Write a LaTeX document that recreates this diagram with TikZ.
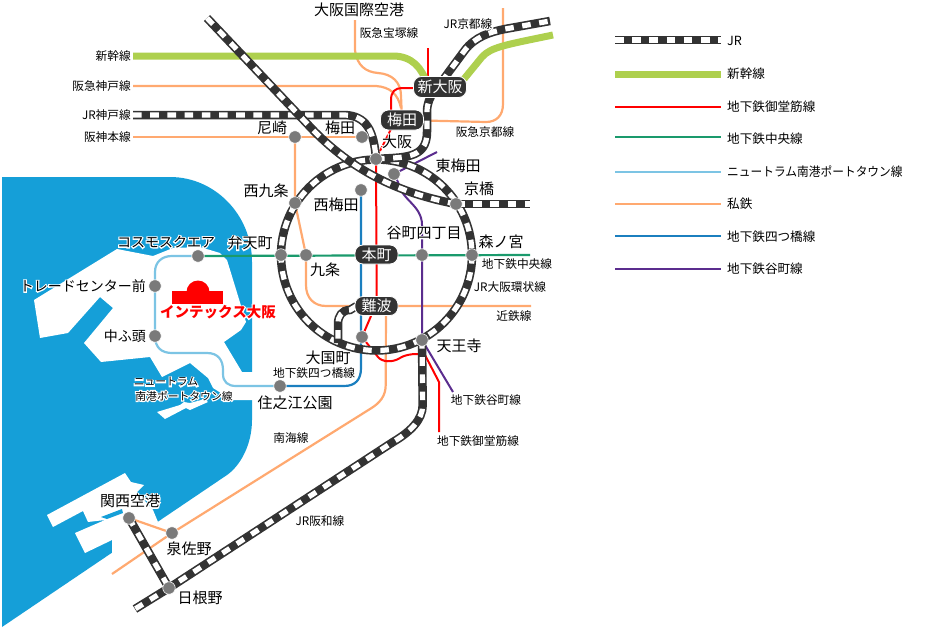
\documentclass[tikz,border=0pt]{standalone}
\usepackage{graphicx}
\usepackage{fontspec}
\setmainfont{Noto Sans CJK JP}
\usetikzlibrary{backgrounds}
\definecolor{water}{HTML}{159FD8}
\definecolor{jrdark}{HTML}{333333}
\definecolor{shink}{HTML}{AED04E}
\definecolor{midou}{HTML}{FF0000}
\definecolor{chuo}{HTML}{1A9A6C}
\definecolor{ntram}{HTML}{7CC4E4}
\definecolor{priv}{HTML}{FFA970}
\definecolor{yotsu}{HTML}{1B7FBF}
\definecolor{tani}{HTML}{5B2D8E}
\definecolor{stn}{HTML}{7A7A7A}
\pgfdeclarelayer{waterlayer}\pgfdeclarelayer{lines}
\pgfsetlayers{waterlayer,lines,main}
\newcommand\hl[1]{\leavevmode\rlap{\special{pdf:code q 1 1 1 RG 2.2 w 1 Tr}#1\special{pdf:code Q}}#1}
\tikzset{
 jrline/.style={draw=jrdark,line width=8.5pt,postaction={draw=white,line width=5.2pt,dash pattern=on 8.6pt off 8.6pt}},
 shinline/.style={draw=shink,line width=7pt},
 midoline/.style={draw=midou,line width=2pt},
 chuoline/.style={draw=chuo,line width=2.2pt},
 tramline/.style={draw=ntram,line width=2.2pt},
 privline/.style={draw=priv,line width=2.2pt},
 yotsuline/.style={draw=yotsu,line width=2.2pt},
 taniline/.style={draw=tani,line width=2pt},
 station/.style={circle,fill=stn,draw=white,line width=.6pt,minimum size=12.5pt,inner sep=0pt},
 capsule/.style={rounded corners=8pt,fill=jrdark,draw=white,line width=.8pt,text=white,inner sep=0pt,font=\fontsize{15}{15}\selectfont,anchor=center},
 big/.style={inner sep=0pt,font=\fontsize{15}{15}\selectfont},
 mid/.style={inner sep=0pt,font=\fontsize{14}{14}\selectfont},
 small/.style={inner sep=0pt,font=\fontsize{11.7}{12}\selectfont},
 tiny/.style={inner sep=0pt,font=\fontsize{10.8}{11}\selectfont},
 legendtext/.style={inner sep=0pt,anchor=west,font=\fontsize{12.6}{13}\selectfont},
 land/.style={fill=white,draw=none},
}
\begin{document}
\begin{tikzpicture}[x=1pt,y=-1pt]
\useasboundingbox (0,0) rectangle (943,629);
% free ends
\coordinate (shinW) at (133,56);
\coordinate (hkW) at (133,86);
\coordinate (jkW) at (133,115);
\coordinate (hsW) at (133,137);
\coordinate (diagN) at (207,18);
\coordinate (kyotoE) at (550,21);
\coordinate (shinE) at (553,35);
\coordinate (kyoE) at (530,204);
\coordinate (chuoE) at (530,255);
\coordinate (kinE) at (531,306);
\coordinate (hanwaS) at (135,609);
\coordinate (nanS) at (112,574);
\coordinate (takaN) at (355,20);
\coordinate (hkyoN) at (503,8);
\coordinate (midoN) at (428,48);
\coordinate (midoS) at (439,432);
\coordinate (taniN) at (437,152);
\coordinate (taniS) at (453,392);
\coordinate (loopC) at (376.5,255);
% stations
\node[station] (amagasaki) at (295,137) {};
\node[station] (umedaS) at (362,137) {};
\node[station] (osaka) at (376,159) {};
\node[station] (higashi) at (394,174) {};
\node[station] (kyobashi) at (456,204) {};
\node[station] (nishikujo) at (295,203) {};
\node[station] (nishiumeda) at (361,190) {};
\node[station] (bentencho) at (281,255) {};
\node[station] (kujo) at (306,255) {};
\node[station] (tanimachi) at (422,255) {};
\node[station] (morinomiya) at (472,255) {};
\node[station] (cosmo) at (198,256) {};
\node[station] (trade) at (155,286) {};
\node[station] (nakafuto) at (155,336) {};
\node[station] (daikoku) at (362,337) {};
\node[station] (tennoji) at (422,340) {};
\node[station] (suminoe) at (280,386) {};
\node[station] (kanku) at (129,518) {};
\node[station] (izumi) at (172,533) {};
\node[station] (hineno) at (169,588) {};
\node[capsule,minimum width=53pt,minimum height=21pt] (shinosaka) at (440,87) {新大阪};
\node[capsule,minimum width=43pt,minimum height=20pt] (umeda) at (402,120) {梅田};
\node[capsule,minimum width=43pt,minimum height=19pt] (honmachi) at (376.5,254.5) {本町};
\node[capsule,minimum width=43pt,minimum height=19pt] (namba) at (376.5,306) {難波};
% water and land
\begin{pgfonlayer}{waterlayer}
\fill[white] (0,0) rectangle (943,629);
\fill[water] (2,177) -- (170,177) .. controls (215,177) and (252,215) .. (252,262) -- (252,420) .. controls (252,445) and (240,466) .. (227,475) -- (2,627) -- cycle;
\fill[land] (117,249) -- (153,256) -- (173,248) -- (200,247) -- (220,253) -- (227,260) -- (246,322) -- (241,330) -- (224,342) -- (242,372) -- (253,372) -- (253,400) -- (232,400) -- (213,388) -- (208,378) -- (190,363) -- (162,377) -- (150,357) -- (101,362) -- (84,343) -- (113,308) -- (100,297) -- (68,333) -- (40,338) -- (34,300) -- cycle;
\fill[land] (157,412) -- (180,405) -- (184,402) -- (190,403) -- (205,399) -- (208,402) -- (190,410) -- (186,408) -- (165,419) -- cycle;
\fill[land] (47,515) -- (125,473) -- (131,482) -- (144,485) -- (137,492) -- (153,510) -- (158,522) -- (112,555) -- (112,540) -- (85,553) -- (75,533) -- (105,520) -- (88,522) -- (83,511) -- (53,527) -- cycle;
\fill[water] (101,517) -- (122,509) -- (123,513) -- (107,519) -- cycle;
\end{pgfonlayer}
\begin{pgfonlayer}{lines}
% private railways
\draw[privline] (takaN) -- (355,50) .. controls (357,66) and (366,72) .. (378,73) .. controls (392,74) and (401,82) .. (401,96) -- (umeda.center);
\draw[privline] (hkW) -- (376,86) .. controls (390,87) and (398,94) .. (401,108);
\draw[privline] (hsW) -- (umedaS.center);
\draw[privline] (amagasaki.center) -- (nishikujo.center) -- (kujo.center) -- (306,285) .. controls (306,298) and (314,306) .. (326,306) -- (kinE);
\draw[privline] (hkyoN) -- (503,104) .. controls (503,116) and (496,122) .. (486,122) -- (umeda.center);
\draw[privline] (namba.center) ++(9.5,0) -- (385.7,385) .. controls (385.7,396) and (380,403) .. (370,409) -- (izumi.center) -- (nanS);
\draw[privline] (kanku.center) -- (izumi.center);
% subways
\draw[tramline] (cosmo.center) -- (172,256) .. controls (162,256) and (155,262) .. (155,272) -- (nakafuto.center) .. controls (155,348) and (162,353) .. (172,353) -- (207,353) .. controls (218,353) and (223,360) .. (223,370) -- (223,374) .. controls (223,382) and (228,386) .. (236,386) -- (suminoe.center);
\draw[chuoline] (cosmo.center) -- (chuoE);
\draw[yotsuline] (nishiumeda.center) -- (361,368) .. controls (361,380) and (355,386) .. (344,386) -- (suminoe.center);
\draw[midoline] (midoN) -- (428,88);
\draw[midoline] (shinosaka.center) ++(-20,1) -- (402,88) .. controls (395,88) and (391,92) .. (391,100) -- (391,112);
\draw[midoline,dashed,dash pattern=on 5pt off 1.5pt] (391,129) -- (osaka.center);
\draw[midoline] (osaka.center) -- (honmachi.center) -- (namba.center);
\draw[midoline] (371,316) -- (daikoku.center) -- (378,357) .. controls (382,362) and (392,363) .. (400,358) .. controls (406,354) and (418,353) .. (425,355) -- (439,382) -- (midoS);
\draw[taniline] (taniN) -- (higashi.center) -- (398,182) .. controls (401,200) and (422,205) .. (422,225) -- (tanimachi.center) -- (tennoji.center) -- (taniS);
% shinkansen
\draw[shinline] (shinW) -- (393,56) .. controls (412,56) and (422,68) .. (427,84);
\draw[shinline] (464,79) -- (482,57) .. controls (491,47) and (505,45) .. (shinE);
% JR
\draw[jrline] (loopC) ++(95.5,0) arc[start angle=0,end angle=360,radius=95.5];
\draw[jrline] (jkW) -- (345,115) .. controls (366,116) and (374,130) .. (osaka.center);
\draw[jrline] (diagN) -- (313,130) .. controls (360,178) and (410,195) .. (kyobashi.center);
\draw[jrline] (osaka.center) .. controls (402,157) and (427,160) .. (427,132) -- (427,112) .. controls (427,95) and (438,88) .. (448,73) -- (465,50) .. controls (475,37) and (490,32) .. (505,29) -- (kyotoE);
\draw[jrline] (kyobashi.center) -- (kyoE);
\draw[jrline] (namba.center) ++(-20,0) -- (350,310) .. controls (342,310) and (338,316) .. (338,324) -- (338,343);
\draw[jrline] (tennoji.center) -- (422.7,405) .. controls (422.7,420) and (410,432) .. (393,442) -- (hineno.center) -- (hanwaS);
\draw[jrline] (kanku.center) -- (hineno.center);
\end{pgfonlayer}
% site icon
\fill[midou] (172,291) rectangle (223,304);
\fill[midou] (186.5,292) arc[start angle=180,end angle=360,radius=11.5] -- cycle;
% map labels
\node[inner sep=0pt,text=midou,font=\fontsize{14.5}{15}\bfseries\selectfont] (lindex) at (218,312) {\hl{インテックス大阪}};
\node[big] (l1) at (359,10) {\hl{大阪国際空港}};
\node[small] (l2) at (389,33) {\hl{阪急宝塚線}};
\node[small] (l3) at (468,24) {\hl{JR京都線}};
\node[small,anchor=east] (l4) at (131,56) {\hl{新幹線}};
\node[small,anchor=east] (l5) at (131,86) {\hl{阪急神戸線}};
\node[small,anchor=east] (l6) at (131,115) {\hl{JR神戸線}};
\node[small,anchor=east] (l7) at (131,137) {\hl{阪神本線}};
\node[big] (l8) at (272,128) {\hl{尼崎}};
\node[big] (l9) at (340,128) {\hl{梅田}};
\node[big] (l10) at (397,142) {\hl{大阪}};
\node[big] (l11) at (458,166) {\hl{東梅田}};
\node[big] (l12) at (479,189) {\hl{京橋}};
\node[big] (l13) at (266,191) {\hl{西九条}};
\node[big] (l14) at (336,205) {\hl{西梅田}};
\node[big] (l15) at (424,233) {\hl{谷町四丁目}};
\node[big] (l16) at (501,242) {\hl{森ノ宮}};
\node[big] (l17) at (250,243) {\hl{弁天町}};
\node[mid] (l18) at (166,242) {\hl{コスモスクエア}};
\node[mid,anchor=east] (l19) at (146,286) {\hl{トレードセンター前}};
\node[big] (l20) at (325,270) {\hl{九条}};
\node[small] (l21) at (517,264) {\hl{地下鉄中央線}};
\node[small] (l22) at (510,287) {\hl{JR大阪環状線}};
\node[small] (l23) at (514,316) {\hl{近鉄線}};
\node[small] (l24) at (485,132) {\hl{阪急京都線}};
\node[mid,anchor=east] (l25) at (146,336) {\hl{中ふ頭}};
\node[big] (l26) at (328,358) {\hl{大国町}};
\node[big] (l27) at (459,346) {\hl{天王寺}};
\node[small] (l28) at (314,373) {\hl{地下鉄四つ橋線}};
\node[big] (l29) at (295,403) {\hl{住之江公園}};
\node[tiny] (l30) at (166,382) {\hl{ニュートラム}};
\node[tiny] (l31) at (184,396) {\hl{南港ポートタウン線}};
\node[small] (l32) at (486,400) {\hl{地下鉄谷町線}};
\node[small] (l33) at (478,441) {\hl{地下鉄御堂筋線}};
\node[small] (l34) at (291,438) {\hl{南海線}};
\node[small] (l35) at (320,521) {\hl{JR阪和線}};
\node[big] (l36) at (130,501) {\hl{関西空港}};
\node[big] (l37) at (189,549) {\hl{泉佐野}};
\node[big] (l38) at (200,598) {\hl{日根野}};
% legend
\coordinate (a1) at (615,40); \coordinate (b1) at (721,40);
\coordinate (a2) at (615,74); \coordinate (b2) at (721,74);
\coordinate (a3) at (615,107); \coordinate (b3) at (721,107);
\coordinate (a4) at (615,137); \coordinate (b4) at (721,137);
\coordinate (a5) at (615,172); \coordinate (b5) at (721,172);
\coordinate (a6) at (615,204); \coordinate (b6) at (721,204);
\coordinate (a7) at (615,236); \coordinate (b7) at (721,236);
\coordinate (a8) at (615,269); \coordinate (b8) at (721,269);
\draw[jrline,line width=8pt] (a1) -- (b1);
\draw[shinline] (a2) -- (b2);
\draw[midoline] (a3) -- (b3);
\draw[chuoline] (a4) -- (b4);
\draw[tramline] (a5) -- (b5);
\draw[privline] (a6) -- (b6);
\draw[yotsuline] (a7) -- (b7);
\draw[taniline] (a8) -- (b8);
\node[legendtext] (t1) at (727,41) {JR};
\node[legendtext] (t2) at (727,74) {新幹線};
\node[legendtext] (t3) at (727,107) {地下鉄御堂筋線};
\node[legendtext] (t4) at (727,139) {地下鉄中央線};
\node[legendtext] (t5) at (727,172) {\scalebox{.93}[1]{ニュートラム南港ポートタウン線}};
\node[legendtext] (t6) at (727,204) {私鉄};
\node[legendtext] (t7) at (727,237) {地下鉄四つ橋線};
\node[legendtext] (t8) at (727,269) {地下鉄谷町線};
\end{tikzpicture}
\end{document}
